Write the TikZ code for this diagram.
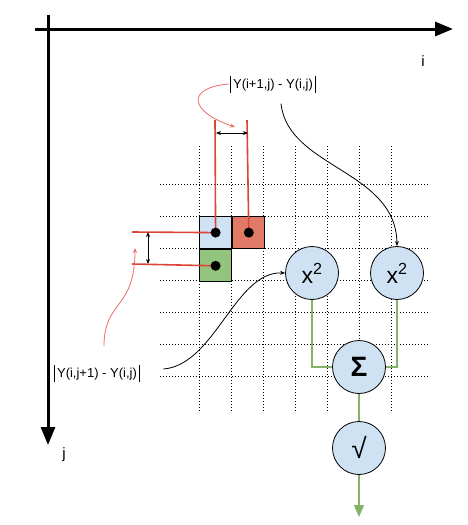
\documentclass[tikz,border=0pt]{standalone}
\usepackage{fontspec}
\setmainfont{Liberation Sans}
\usepackage{tikz}
\usetikzlibrary{arrows.meta,positioning}

\definecolor{cellblue}{RGB}{207,226,243}
\definecolor{cellred}{RGB}{224,122,102}
\definecolor{cellgreen}{RGB}{147,196,125}
\definecolor{tracered}{RGB}{219,68,55}
\definecolor{notepink}{RGB}{234,107,102}
\definecolor{flowgreen}{RGB}{130,179,102}

\newcommand{\absbar}{\rule[-4.5pt]{1.1pt}{17pt}}

\begin{document}
\begin{tikzpicture}[x=1pt,y=-1pt,
    axis/.style={line width=3pt,-{Triangle[length=18pt,width=14pt]}},
    gridline/.style={dash pattern=on 1pt off 2pt,line width=0.8pt},
    cell/.style={draw,line width=1.2pt,minimum size=32pt,inner sep=0pt},
    trace/.style={tracered,line width=1.6pt},
    dim/.style={line width=1pt,{Stealth[length=5pt,width=4pt]}-{Stealth[length=5pt,width=4pt]}},
    op/.style={circle,draw,line width=0.8pt,fill=cellblue,minimum size=53pt,inner sep=0pt},
    flow/.style={flowgreen,line width=1.6pt},
    note/.style={notepink,line width=0.8pt,-{Stealth[length=5pt,width=4pt]}},
    link/.style={line width=0.8pt,-{Stealth[length=5pt,width=4pt]}},
    lbl/.style={font=\fontsize{13}{15}\selectfont,inner sep=1pt}]
\useasboundingbox (0,0) rectangle (468,525);

% Axes
\draw[axis] (48,15) -- (48,445);
\draw[axis] (35,29) -- (453,29);
\node[lbl,font=\fontsize{15}{17}\selectfont] (ilbl) at (423,61) {i};
\node[lbl,font=\fontsize{15}{17}\selectfont] (jlbl) at (64,455) {j};

% Dotted grid
\foreach \x in {199,231,...,391}
  \draw[gridline] (\x,146) -- (\x,413);
\foreach \y in {184,216,...,376}
  \draw[gridline] (160,\y) -- (430,\y);

% Pixel (i,j) and its neighbours
\node[cell,fill=cellblue,anchor=north west] (cellij) at (199,216) {};
\node[cell,fill=cellred,right=0pt of cellij] (cellip) {};
\node[cell,fill=cellgreen,below=0pt of cellij] (celljp) {};

% Traces out of the pixels
\coordinate (topA) at (215,120);
\coordinate (topB) at (247,120);
\coordinate (leftA) at (132,232);
\coordinate (leftB) at (132,264);
\draw[trace] (cellij.center) -- (topA);
\draw[trace] (cellip.center) -- (topB);
\draw[trace] (cellij.center) -- (leftA);
\draw[trace] (celljp.center) -- (leftB);
\fill (cellij.center) circle (5pt);
\fill (cellip.center) circle (5pt);
\fill (celljp.center) circle (5pt);

% Differences
\coordinate (dimA) at (216,133);
\coordinate (dimB) at (248,133);
\coordinate (dimC) at (148,232);
\coordinate (dimD) at (148,264);
\draw[dim] (dimA) -- (dimB);
\draw[dim] (dimC) -- (dimD);

% Operations
\node[op,font=\fontsize{23}{25}\selectfont] (sqA) at (312,273) {x\textsuperscript{2}};
\node[op,font=\fontsize{23}{25}\selectfont] (sqB) at (397,273) {x\textsuperscript{2}};
\node[op,font=\fontsize{28}{30}\selectfont\bfseries] (sum) at (359,367) {Σ};
\node[op,font=\fontsize{28}{30}\selectfont] (root) at (359,448) {√};
\coordinate (out) at (359,517);

\draw[flow] (sqA.south) |- (sum.west);
\draw[flow] (sqB.south) |- (sum.east);
\draw[flow] (sum) -- (root);
\draw[flow,-{Triangle[length=12pt,width=10pt]}] (root.south) -- (out);

% Labels
\node[lbl] (lblH) at (273,84) {\absbar\,Y(i+1,j) - Y(i,j)\,\absbar};
\node[lbl] (lblV) at (97,373) {\absbar\,Y(i,j+1) - Y(i,j)\,\absbar};

\draw[note] (lblH.west) .. controls (185,88) and (190,112) .. (235,127);
\draw[note] (104,346) .. controls (104,300) and (135,310) .. (135,248);
\draw[link] ([xshift=8pt,yshift=-10pt]lblH.south) .. controls (288,168) and (396,170) .. (sqB.north);
\draw[link] ([xshift=22pt,yshift=4pt]lblV.east) .. controls (215,365) and (235,271) .. (sqA.west);
\end{tikzpicture}
\end{document}
